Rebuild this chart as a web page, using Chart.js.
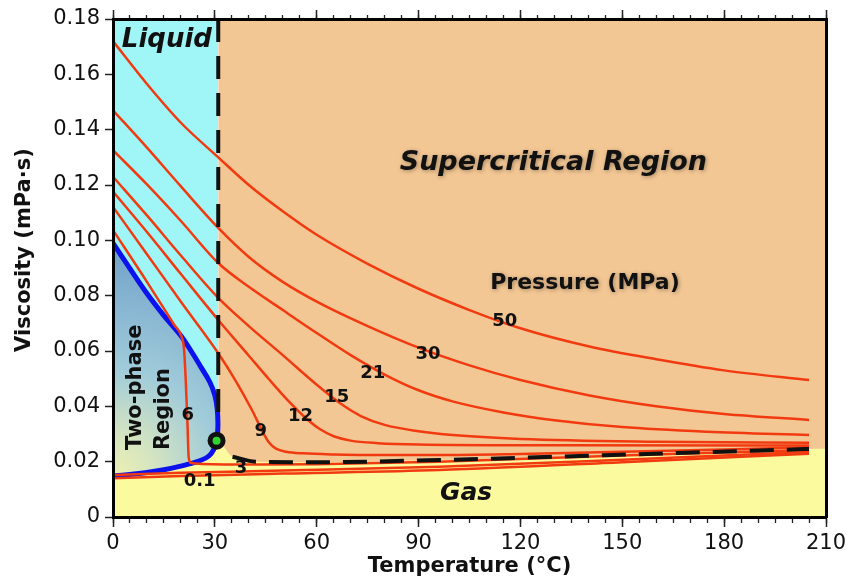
<!DOCTYPE html>
<html>
<head>
<meta charset="utf-8">
<title>CO2 viscosity - phase regions</title>
<script src="https://cdn.jsdelivr.net/npm/chart.js@4.4.1/dist/chart.umd.min.js"></script>
<style>
  html, body { margin: 0; padding: 0; background: #fff; }
</style>
</head>
<body>
<canvas id="viscChart" width="854" height="581"></canvas>
<script>
// ============ DATA ============
// every curve is a list of [temperature (°C), viscosity (mPa·s)]

// isobars, labelled in MPa
const p50 = [[0,0.1720],[10,0.1565],[20,0.1425],[31,0.1300],[40,0.1200],[50,0.1105],[60,0.1020],[75,0.0915],[90,0.0825],[105,0.0748],[120,0.0682],[140,0.0617],[160,0.0570],[180,0.0530],[205,0.0495]];
const p30 = [[0,0.1470],[10,0.1335],[20,0.1195],[31,0.1045],[40,0.0940],[50,0.0850],[61,0.0772],[75,0.0690],[90,0.0612],[105,0.0548],[120,0.0495],[140,0.0440],[160,0.0400],[180,0.0372],[205,0.0351]];
const p21 = [[0,0.1326],[10,0.1202],[20,0.1070],[31,0.0918],[40,0.0832],[50,0.0748],[60,0.0665],[70,0.0585],[80,0.0515],[90,0.0458],[100,0.0418],[115,0.0378],[130,0.0350],[150,0.0325],[175,0.0308],[205,0.0296]];
const p15 = [[0,0.1230],[10,0.1090],[20,0.0945],[31,0.0792],[40,0.0690],[50,0.0585],[60,0.0478],[67,0.0410],[73,0.0365],[80,0.0333],[90,0.0310],[100,0.0296],[120,0.0282],[160,0.0272],[205,0.0268]];
const p12 = [[0,0.1176],[10,0.1030],[20,0.0878],[31,0.0712],[40,0.0583],[46,0.0497],[52,0.0415],[57,0.0355],[61,0.0317],[65,0.0292],[70,0.0276],[78,0.0267],[90,0.0262],[130,0.0259],[205,0.0258]];
const p9  = [[0,0.1121],[10,0.0950],[20,0.0778],[31,0.0592],[36,0.0495],[41,0.0385],[44,0.0310],[46,0.0268],[48,0.0247],[51,0.0236],[56,0.0230],[65,0.0226],[80,0.0224],[96,0.0224],[120,0.0228],[150,0.0236],[180,0.0244],[205,0.0252]];
const p6  = [[0,0.1037],[10,0.0850],[18,0.0695],[20.2,0.0652],[20.9,0.0610],[21.4,0.0500],[21.9,0.0350],[22.3,0.0215],[22.9,0.0196],[26,0.0192],[40,0.0190],[60,0.0191],[96,0.0200],[150,0.0222],[205,0.0242]];
const p3  = [[0,0.0152],[20,0.0160],[50,0.0168],[96,0.0182],[150,0.0207],[205,0.0235]];
const p01 = [[0,0.0140],[20,0.0148],[50,0.0157],[96,0.0170],[150,0.0198],[205,0.0229]];

// saturation curve: liquid branch down to the critical point, vapour branch back to 0 °C
const satLiquid = [[0,0.0990],[5,0.0898],[10,0.0808],[15,0.0728],[20,0.0655],[23,0.0600],[26,0.0540],[28.5,0.0488],[30.0,0.0440],[30.7,0.0390],[30.9,0.0340],[30.8,0.0303]];
const critPoint = [30.5, 0.0276];
const satVapor  = [[29.6,0.0243],[28.2,0.0220],[25.5,0.0203],[22.5,0.0192],[19,0.0181],[15,0.0171],[10,0.0161],[5,0.0154],[0,0.0148]];

// region boundaries
const critIsotherm = [[31,0.18],[31,0.037]];
const gasBoundary  = [[35.2,0.0218],[42,0.0200],[60,0.0198],[96,0.0206],[147,0.0224],[205,0.0246]];
const liquidTop    = [[0,0.18],[31,0.18]];
const superTop     = [[31,0.18],[210,0.18]];

// axis ticks
const tempTicks = [0, 30, 60, 90, 120, 150, 180, 210];
const viscTicks = [0, 0.02, 0.04, 0.06, 0.08, 0.10, 0.12, 0.14, 0.16, 0.18];

// ============ STYLE ============
const FONT = "'DejaVu Sans', sans-serif";
const RED = '#f23a10';
const BLUE = '#0b12ee';
const PEACH = '#f3c794';
const CYAN = '#a0f6f6';
const YELLOW = '#fcfa9e';
const INK = '#111111';

const toPts = arr => arr.map(([x, y]) => ({ x, y }));

// curves built from the arrays above
const satCurve = satLiquid.concat([critPoint], satVapor);
const gasTop = satVapor.slice().reverse().concat([critPoint], gasBoundary, [[210, 0.0247]]);

function isobar(label, pts) {
    return {
        label: label,
        data: toPts(pts),
        showLine: true,
        borderColor: RED,
        borderWidth: 2.5,
        pointRadius: 0,
        fill: false,
        cubicInterpolationMode: 'monotone',
        order: 5
    };
}

function region(label, pts, color, order) {
    return {
        label: label,
        data: toPts(pts),
        showLine: true,
        fill: 'start',
        backgroundColor: color,
        borderColor: 'rgba(0,0,0,0)',
        borderWidth: 0,
        pointRadius: 0,
        cubicInterpolationMode: 'monotone',
        order: order
    };
}

// two-phase shading: pale yellow in the lower left corner, steel blue further away
function twoPhaseFill(context) {
    const chart = context.chart;
    if (!chart.chartArea) return '#a5cfe0';
    const cx = chart.scales.x.getPixelForValue(0);
    const cy = chart.scales.y.getPixelForValue(0.0145);
    const g = chart.ctx.createRadialGradient(cx, cy, 0, cx, cy, 240);
    g.addColorStop(0, 'rgb(238,240,178)');
    g.addColorStop(0.17, 'rgb(214,229,192)');
    g.addColorStop(0.45, 'rgb(160,203,218)');
    g.addColorStop(1, 'rgb(110,158,200)');
    return g;
}

// ============ TEXT ON THE PLOT ============
const isobarNames = ['50', '30', '21', '15', '12', '9', '6', '3', '0.1'];
const isobarNameAt = [[115.4,0.0709],[92.8,0.0588],[76.5,0.0519],[65.9,0.0433],[55.2,0.0363],[43.5,0.0308],[22.0,0.0369],[37.7,0.0176],[25.5,0.0128]];

const textNotes = {
    id: 'textNotes',
    afterDatasetsDraw(chart) {
        const { ctx, scales: { x, y } } = chart;
        const px = v => x.getPixelForValue(v);
        const py = v => y.getPixelForValue(v);
        ctx.save();
        ctx.fillStyle = INK;

        // isobar numbers
        ctx.font = `bold 18px ${FONT}`;
        ctx.textAlign = 'center';
        ctx.textBaseline = 'middle';
        isobarNames.forEach((t, i) => {
            ctx.fillText(t, px(isobarNameAt[i][0]), py(isobarNameAt[i][1]));
        });

        ctx.textBaseline = 'alphabetic';

        // Liquid
        ctx.font = `italic bold 26px ${FONT}`;
        ctx.textAlign = 'left';
        ctx.fillText('Liquid', px(2.6), py(0.1699));

        // Gas
        ctx.font = `italic bold 25px ${FONT}`;
        ctx.textAlign = 'center';
        ctx.fillText('Gas', px(104), py(0.0061));

        // Supercritical + pressure caption, with a soft shadow
        ctx.save();
        ctx.shadowColor = 'rgba(0,0,0,0.35)';
        ctx.shadowBlur = 4;
        ctx.shadowOffsetX = 1;
        ctx.shadowOffsetY = 1;
        ctx.font = `italic bold 27px ${FONT}`;
        ctx.fillText('Supercritical Region', px(129.7), py(0.1254));
        ctx.font = `bold 22px ${FONT}`;
        ctx.fillText('Pressure (MPa)', px(139), py(0.0824));
        ctx.restore();

        // Two-phase Region (vertical)
        ctx.save();
        ctx.translate(px(8.3), py(0.0242));
        ctx.rotate(-Math.PI / 2);
        ctx.textAlign = 'left';
        ctx.font = `bold 21px ${FONT}`;
        ctx.fillText('Two-phase', 0, 0);
        ctx.fillText('Region', 0, 28);
        ctx.restore();

        ctx.restore();
    },
    afterDraw(chart) {
        // y axis title, sits a little above the middle of the axis
        const { ctx, chartArea, scales: { y } } = chart;
        ctx.save();
        ctx.translate(chartArea.left - 88, y.getPixelForValue(0.0965));
        ctx.rotate(-Math.PI / 2);
        ctx.font = `bold 21px ${FONT}`;
        ctx.fillStyle = INK;
        ctx.textAlign = 'center';
        ctx.textBaseline = 'middle';
        ctx.fillText('Viscosity (mPa·s)', 0, 0);
        ctx.restore();
    }
};

// ============ SCALES ============
const frame = { display: true, color: '#000', width: 3, z: 1 };

function minorAxis(position, step, len) {
    return {
        type: 'linear', axis: 'x', position: position, min: 0, max: 210, weight: 0,
        ticks: { display: false, stepSize: step, autoSkip: false },
        grid: { drawOnChartArea: false, drawTicks: true, tickLength: len, tickWidth: 1.3, tickColor: '#222' },
        border: { display: false },
        afterFit: s => { s.height = 0; }
    };
}

const scales = {
    x: {
        type: 'linear', axis: 'x', position: 'bottom', min: 0, max: 210, weight: 1, z: 1,
        afterBuildTicks: s => { s.ticks = tempTicks.map(v => ({ value: v })); },
        ticks: { font: { family: FONT, size: 21 }, color: INK, padding: 4, maxRotation: 0, autoSkip: false },
        grid: { drawOnChartArea: false, drawTicks: true, tickLength: 10, tickWidth: 1.5, tickColor: '#222' },
        border: frame,
        title: {
            display: true, text: 'Temperature (°C)', color: INK,
            font: { family: FONT, size: 21, weight: 'bold' },
            padding: { top: 0, bottom: 2 }
        },
        afterFit: s => { s.height = 64; }
    },
    xMinor: minorAxis('bottom', 5, 6),
    xTop: {
        type: 'linear', axis: 'x', position: 'top', min: 0, max: 210, weight: 1, z: 1,
        afterBuildTicks: s => { s.ticks = tempTicks.map(v => ({ value: v })); },
        ticks: { display: false },
        grid: { drawOnChartArea: false, drawTicks: true, tickLength: 9, tickWidth: 1.5, tickColor: '#222' },
        border: frame,
        afterFit: s => { s.height = 19; }
    },
    xTopMinor: minorAxis('top', 5, 4),
    y: {
        type: 'linear', axis: 'y', position: 'left', min: 0, max: 0.18, z: 1,
        afterBuildTicks: s => { s.ticks = viscTicks.map(v => ({ value: v })); },
        ticks: {
            font: { family: FONT, size: 21 }, color: INK, padding: 5,
            callback: v => (v === 0 ? '0' : v.toFixed(2))
        },
        grid: { drawOnChartArea: false, drawTicks: true, tickLength: 8, tickWidth: 1.5, tickColor: '#222' },
        border: frame,
        title: { display: false },
        afterFit: s => { s.width = 113; }
    },
    yRight: {
        type: 'linear', axis: 'y', position: 'right', min: 0, max: 0.18, z: 1,
        ticks: { display: false },
        grid: { drawOnChartArea: false, drawTicks: false },
        border: frame,
        afterFit: s => { s.width = 28; }
    }
};

// ============ BUILD CHART ============
const datasets = [
    region('Supercritical region', superTop, PEACH, 12),
    region('Liquid', liquidTop, CYAN, 11),
    region('Gas', gasTop, YELLOW, 10),
    {
        label: 'Saturation curve',
        data: toPts(satCurve),
        showLine: true,
        fill: 'shape',
        backgroundColor: twoPhaseFill,
        borderColor: BLUE,
        borderWidth: 5,
        tension: 0.4,
        pointRadius: 0,
        order: 8
    },
    isobar('50 MPa', p50),
    isobar('30 MPa', p30),
    isobar('21 MPa', p21),
    isobar('15 MPa', p15),
    isobar('12 MPa', p12),
    isobar('9 MPa', p9),
    isobar('6 MPa', p6),
    isobar('3 MPa', p3),
    isobar('0.1 MPa', p01),
    {
        label: 'Critical temperature',
        data: toPts(critIsotherm),
        showLine: true,
        borderColor: INK,
        borderWidth: 4,
        borderDash: [23, 14],
        borderCapStyle: 'butt',
        pointRadius: 0,
        fill: false,
        order: 4
    },
    {
        label: 'Gas boundary',
        data: toPts(gasBoundary),
        showLine: true,
        borderColor: INK,
        borderWidth: 4,
        borderDash: [24, 13],
        borderCapStyle: 'butt',
        pointRadius: 0,
        fill: false,
        cubicInterpolationMode: 'monotone',
        order: 4
    },
    {
        label: 'Critical point',
        data: toPts([critPoint]),
        showLine: false,
        pointRadius: 6.5,
        pointBorderWidth: 5,
        pointBackgroundColor: '#2fd52f',
        pointBorderColor: '#111',
        order: 1
    }
];

const viscChart = new Chart(document.getElementById('viscChart'), {
    type: 'scatter',
    data: { datasets: datasets },
    options: {
        responsive: false,
        animation: false,
        devicePixelRatio: 1,
        layout: { padding: 0 },
        scales: scales,
        plugins: {
            legend: { display: false },
            tooltip: { enabled: false }
        }
    },
    plugins: [textNotes]
});
</script>
</body>
</html>
